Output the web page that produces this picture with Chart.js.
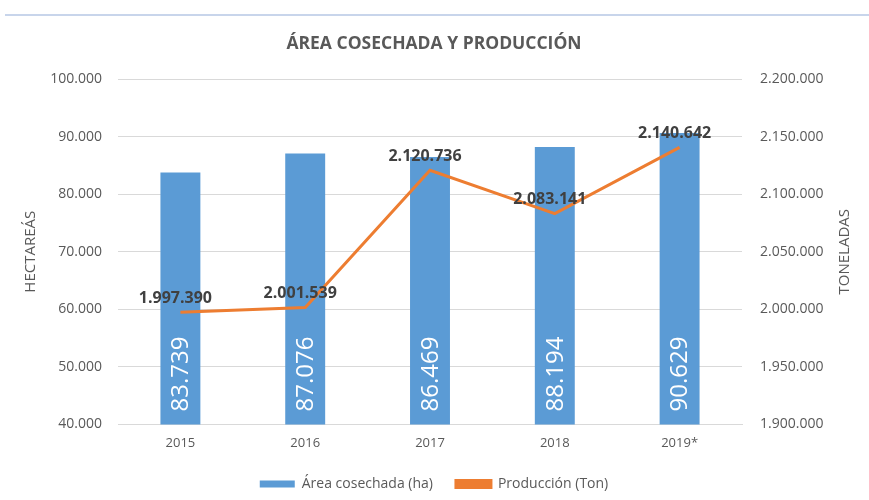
<!DOCTYPE html>
<html>
<head>
<meta charset="utf-8">
<script src="https://cdn.jsdelivr.net/npm/chart.js@4/dist/chart.umd.min.js"></script>
<style>
  body { margin: 0; background: #fff; }
  #wrap { width: 869px; height: 500px; position: relative; }
</style>
</head>
<body>
<div id="wrap"><canvas id="chart"></canvas></div>
<script>
const years = ['2015', '2016', '2017', '2018', '2019*'];
const areaHa = [83739, 87076, 86469, 88194, 90629];
const produccionTon = [1997390, 2001539, 2120736, 2083141, 2140642];

const FONT = "'Open Sans', 'Liberation Sans', sans-serif";

function miles(v) {
   return Math.round(v).toString().replace(/\B(?=(\d{3})+(?!\d))/g, '.');
}

// labels on bars and line points, plus top rule and right axis title
const extras = {
   id: 'extras',
   beforeDraw(chart) {
      const c = chart.ctx;
      c.save();
      c.strokeStyle = '#c8d5eb';
      c.lineWidth = 2;
      c.beginPath();
      c.moveTo(5, 15);
      c.lineTo(chart.width, 15);
      c.stroke();
      c.restore();
   },
   afterDraw(chart) {
      const c = chart.ctx;
      const base = chart.scales.y.getPixelForValue(40000);
      // bar values, white, rotated
      const barMeta = chart.getDatasetMeta(0);
      barMeta.data.forEach((bar, i) => {
         c.save();
         c.fillStyle = '#ffffff';
         c.font = '24px ' + FONT;
         c.textAlign = 'left';
         c.textBaseline = 'middle';
         c.translate(bar.x, base - 13);
         c.rotate(-Math.PI / 2);
         c.fillText(miles(areaHa[i]), 0, 1);
         c.restore();
      });
      c.save();
      // line values, bold dark
      const lineMeta = chart.getDatasetMeta(1);
      c.fillStyle = '#404040';
      c.font = 'bold 16px ' + FONT;
      c.textAlign = 'center';
      c.textBaseline = 'bottom';
      lineMeta.data.forEach((pt, i) => {
         c.fillText(miles(produccionTon[i]), pt.x - 5, pt.y - 6);
      });
      // right axis title
      const yr = chart.scales.y1;
      c.fillStyle = '#595959';
      c.font = '15px ' + FONT;
      c.textAlign = 'center';
      c.textBaseline = 'middle';
      c.translate(845, (yr.top + yr.bottom) / 2);
      c.rotate(-Math.PI / 2);
      c.fillText('TONELADAS', 0, 0);
      c.restore();
   }
};

new Chart(document.getElementById('chart'), {
   data: {
      labels: years,
      datasets: [{
         type: 'bar',
         label: 'Área cosechada (ha)',
         data: areaHa,
         backgroundColor: '#5b9bd5',
         borderWidth: 0,
         categoryPercentage: 1,
         barPercentage: 0.32,
         yAxisID: 'y',
         order: 2
      }, {
         type: 'line',
         label: 'Producción (Ton)',
         data: produccionTon,
         borderColor: '#ed7d31',
         backgroundColor: '#ed7d31',
         borderWidth: 3,
         pointRadius: 0,
         tension: 0,
         yAxisID: 'y1',
         order: 1
      }]
   },
   options: {
      responsive: true,
      maintainAspectRatio: false,
      animation: false,
      layout: { padding: { top: 34, left: 22, right: 23, bottom: -1 } },
      plugins: {
         title: {
            display: true,
            text: 'ÁREA COSECHADA Y PRODUCCIÓN',
            color: '#595959',
            font: { family: FONT, size: 17.5, weight: 'bold' },
            padding: { top: 0, bottom: 24 }
         },
         legend: {
            position: 'bottom',
            labels: {
               color: '#595959',
               font: { family: FONT, size: 14 },
               boxWidth: 35,
               boxHeight: 7,
               padding: 23,
               sort: (a, b) => a.datasetIndex - b.datasetIndex
            }
         },
         tooltip: { enabled: false }
      },
      scales: {
         x: {
            grid: { display: false },
            border: { color: '#d9d9d9' },
            ticks: { color: '#595959', font: { family: FONT, size: 13 } }
         },
         y: {
            position: 'left',
            min: 40000,
            max: 100000,
            afterFit: s => { s.width = 96; },
            ticks: {
               stepSize: 10000,
               color: '#595959',
               font: { family: FONT, size: 14 },
               padding: 16,
               callback: v => miles(v)
            },
            grid: { color: '#d9d9d9', drawTicks: false },
            border: { display: false },
            title: {
               display: true,
               text: 'HECTAREÁS',
               color: '#595959',
               font: { family: FONT, size: 15 },
               padding: { top: 0, bottom: 8 }
            }
         },
         y1: {
            position: 'right',
            min: 1900000,
            max: 2200000,
            afterFit: s => { s.width = 104; },
            ticks: {
               stepSize: 50000,
               color: '#595959',
               font: { family: FONT, size: 14 },
               padding: 18,
               callback: v => miles(v)
            },
            grid: { display: false, drawTicks: false },
            border: { display: false }
         }
      }
   },
   plugins: [extras]
});
</script>
</body>
</html>
